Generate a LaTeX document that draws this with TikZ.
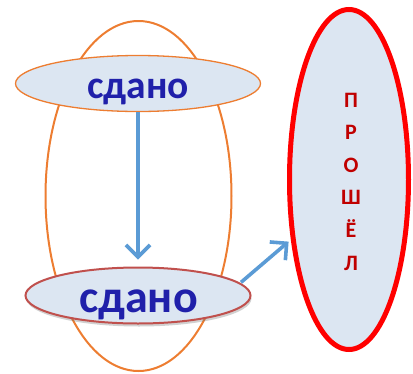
\documentclass[tikz,border=0pt]{standalone}
\usepackage{fontspec}
\setmainfont{Carlito}
\usetikzlibrary{shapes.geometric,arrows.meta,shadows}
\definecolor{lightfill}{HTML}{DCE6F2}
\definecolor{orangeline}{HTML}{ED7D31}
\definecolor{darkredline}{HTML}{C0504D}
\definecolor{arrowblue}{HTML}{5B9BD5}
\definecolor{textblue}{RGB}{32,32,170}
\definecolor{textred}{HTML}{C00000}
\definecolor{brightred}{HTML}{FF0000}
\tikzset{
  blob/.style={ellipse, inner sep=0pt, fill=lightfill},
  word/.style={font=\bfseries, text=textblue, anchor=base, inner sep=0pt},
  flow/.style={draw=arrowblue, line width=3.6pt, -{Straight Barb[length=12pt,width=24pt,line width=3.6pt]}},
  letter/.style={font=\bfseries\fontsize{22}{26}\selectfont, text=textred, anchor=base, inner sep=0pt}
}
\begin{document}
\begin{tikzpicture}[x=1pt,y=-1pt]
\useasboundingbox (0,0) rectangle (413,373);
% big orange ellipse
\node[ellipse, draw=orangeline, line width=2pt, minimum width=186pt, minimum height=350pt, inner sep=0pt] (outer) at (138.5,196) {};
% top ellipse
\node[blob, draw=orangeline, line width=1.3pt, minimum width=245pt, minimum height=56pt] (top) at (138,83.5) {};
\node[word, font=\bfseries\fontsize{39.5}{44}\selectfont] (toptext) at (138,98) {сдано};
% bottom ellipse
\node[blob, draw=darkredline, line width=2pt, minimum width=225pt, minimum height=56pt,
  drop shadow={shadow xshift=1pt, shadow yshift=-3pt, opacity=0.3, fill=black!60}] (bot) at (138,295.5) {};
\node[word, font=\bfseries\fontsize{46}{50}\selectfont] (bottext) at (138.5,312) {сдано};
% red ellipse
\node[blob, draw=brightred, line width=5pt, minimum width=119pt, minimum height=340pt] (red) at (349,179.5) {};
\node[letter] (l1) at (351,107) {П};
\node[letter] (l2) at (351,139.6) {Р};
\node[letter] (l3) at (351,172.2) {О};
\node[letter] (l4) at (351,204.8) {Ш};
\node[letter] (l5) at (351,237.4) {Ё};
\node[letter] (l6) at (351,270) {Л};
% arrows
\draw[flow, shorten >=7pt] (top.south) -- (bot.north);
\draw[flow, shorten <=1pt, shorten >=3pt] (bot.7) -- (red.226);
\end{tikzpicture}
\end{document}
